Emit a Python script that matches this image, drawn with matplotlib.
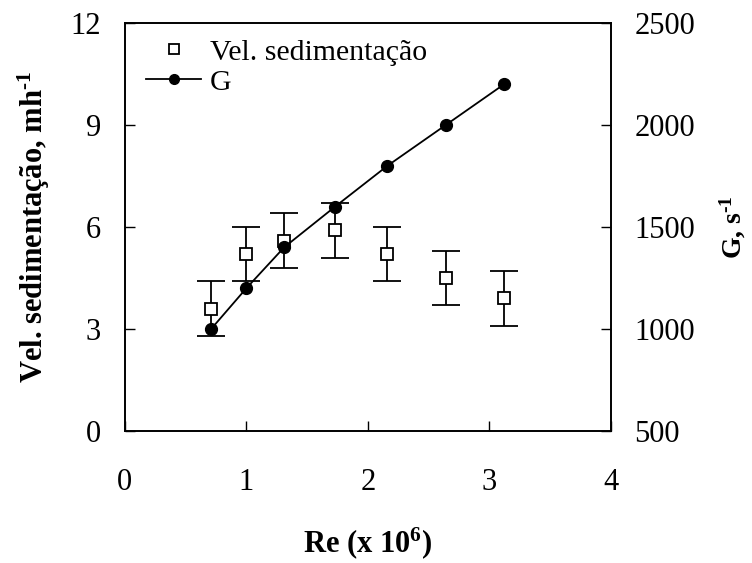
import matplotlib
matplotlib.use("Agg")
import matplotlib.pyplot as plt
from matplotlib.lines import Line2D

plt.rcParams["font.family"] = ["Liberation Serif", "DejaVu Serif"]
plt.rcParams["mathtext.default"] = "regular"

# Data
re_x = [0.71, 1.00, 1.31, 1.73, 2.16, 2.64, 3.12]
vel_sed = [3.6, 5.2, 5.6, 5.9, 5.2, 4.5, 3.9]
vel_err = [0.8, 0.8, 0.8, 0.8, 0.8, 0.8, 0.8]
g_vals = [1000, 1200, 1400, 1600, 1800, 2000, 2200]

fs = 22
sup_m1 = "$^{\u20101}$"  # plain hyphen, like the original

fig = plt.figure(figsize=(7.52, 5.63), dpi=100)
ax = fig.add_axes([0.166, 0.2345, 0.6465, 0.7245])
ax2 = ax.twinx()

# Vel. sedimentacao with error bars
ax.errorbar(re_x, vel_sed, yerr=vel_err, fmt="none", ecolor="black",
            elinewidth=1.3, capsize=10, capthick=1.3, zorder=2)
ax.plot(re_x, vel_sed, ls="none", marker="s", ms=8, mfc="white",
        mec="black", mew=1.3, zorder=3)

# G on the right axis
ax2.plot(re_x, g_vals, color="black", lw=1.3, marker="o", ms=8.5,
         mfc="black", mec="black", zorder=4)

ax.set_xlim(0, 4)
ax.set_ylim(0, 12)
ax2.set_ylim(500, 2500)
ax.set_xticks([0, 1, 2, 3, 4])
ax.set_yticks([0, 3, 6, 9, 12])
ax2.set_yticks([500, 1000, 1500, 2000, 2500])

ax.tick_params(axis="x", direction="in", length=7, width=1, labelsize=fs, pad=27)
ax.tick_params(axis="y", direction="in", length=7, width=1, labelsize=fs, pad=17)
ax2.tick_params(axis="y", direction="in", length=7, width=1, labelsize=fs, pad=17)

for a in (ax, ax2):
    for s in a.spines.values():
        s.set_linewidth(1.2)

ax.set_xlabel("Re (x 10$^{6}$)", fontsize=22, fontweight="bold")
ax.xaxis.set_label_coords(0.5, -0.232)
ax.set_ylabel("Vel. sedimentação, mh" + sup_m1, fontsize=22, fontweight="bold")
ax.yaxis.set_label_coords(-0.15, 0.5)
ax2.set_ylabel("G, s" + sup_m1, fontsize=20, fontweight="bold", rotation=90)
ax2.yaxis.set_label_coords(1.22, 0.5)

handles = [
    Line2D([], [], ls="none", marker="s", ms=7, mfc="white", mec="black", mew=1.3),
    Line2D([], [], color="black", lw=1.3, marker="o", ms=7, mfc="black"),
]
ax2.legend(handles, ["Vel. sedimentação", "G"], loc="upper left",
           bbox_to_anchor=(146 / 752, 1 - 39 / 563), bbox_transform=fig.transFigure,
           frameon=False, fontsize=21.5, borderpad=0, borderaxespad=0,
           handlelength=1.85, handletextpad=0.3, labelspacing=0.1)

fig.savefig("out.png", dpi=100)
